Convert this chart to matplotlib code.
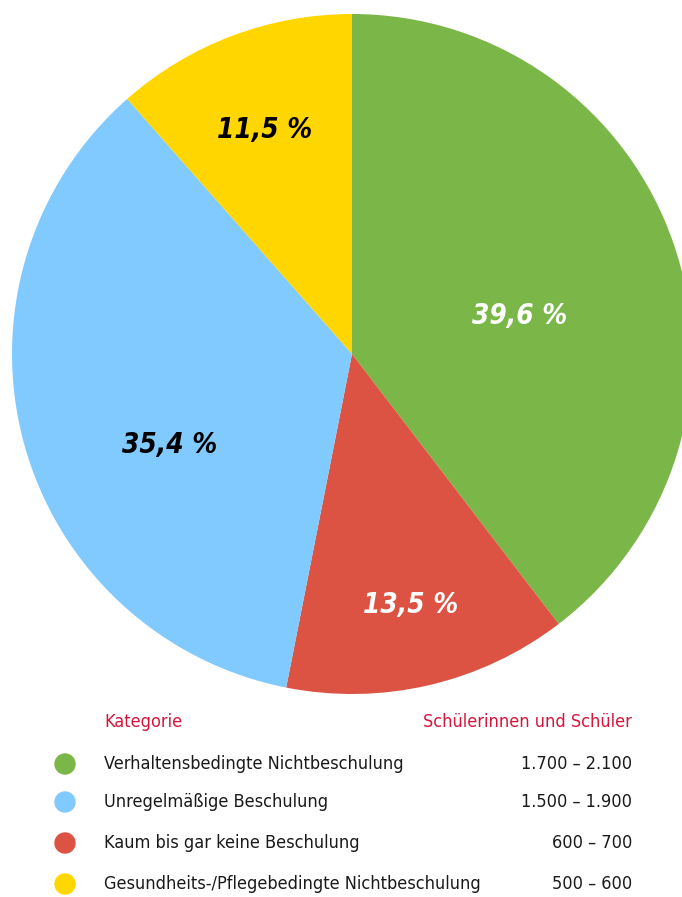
import matplotlib
matplotlib.use("Agg")
import matplotlib.pyplot as plt

categories = ["Verhaltensbedingte Nichtbeschulung", "Unregelmäßige Beschulung",
              "Kaum bis gar keine Beschulung", "Gesundheits-/Pflegebedingte Nichtbeschulung"]
ranges = ["1.700 – 2.100", "1.500 – 1.900", "600 – 700", "500 – 600"]
# pie order (clockwise from top)
pie_labels = ["39,6 %", "13,5 %", "35,4 %", "11,5 %"]
pie_values = [39.6, 13.5, 35.4, 11.5]
pie_colors = ["#7ab648", "#dc5243", "#80caff", "#ffd600"]
legend_colors = ["#7ab648", "#80caff", "#dc5243", "#ffd600"]
label_colors = ["white", "white", "black", "black"]
label_pos = [(0.494, 0.112), (0.171, -0.738), (-0.535, -0.268), (-0.256, 0.659)]

plt.rcParams['font.family'] = ['DejaVu Sans']
cond = dict(fontstretch='condensed')

W, H = 682, 897
fig = plt.figure(figsize=(W / 100, H / 100), dpi=100)
cx, cy, r = 352, 354, 340
ax = fig.add_axes([(cx - r) / W, (H - cy - r) / H, 2 * r / W, 2 * r / H])
ax.pie(pie_values, colors=pie_colors, startangle=90, counterclock=False,
       radius=1, wedgeprops=dict(linewidth=0))
ax.set_xlim(-1, 1)
ax.set_ylim(-1, 1)
ax.set_aspect('equal')
ax.axis('off')
for lab, pos, col in zip(pie_labels, label_pos, label_colors):
    ax.text(pos[0], pos[1], lab, ha='center', va='center', color=col,
            fontsize=20, fontweight='bold', fontstyle='italic', **cond)

red = "#d4163c"
def fy(y):
    return 1 - y / H
fs = 13
fig.text(104 / W, fy(722), "Kategorie", color=red, fontsize=fs, ha='left', va='center', **cond)
fig.text(632 / W, fy(722), "Schülerinnen und Schüler", color=red, fontsize=fs, ha='right', va='center', **cond)
rows_y = [764, 802, 843, 884]
for cat, rg, col, y in zip(categories, ranges, legend_colors, rows_y):
    fig.patches.append(matplotlib.patches.Circle((65, (H - y)), 10,
                       transform=None, color=col))
    fig.text(104 / W, fy(y), cat, color="#1a1a1a", fontsize=fs, ha='left', va='center', **cond)
    fig.text(632 / W, fy(y), rg, color="#1a1a1a", fontsize=fs, ha='right', va='center', **cond)

fig.savefig("out.png", dpi=100)
